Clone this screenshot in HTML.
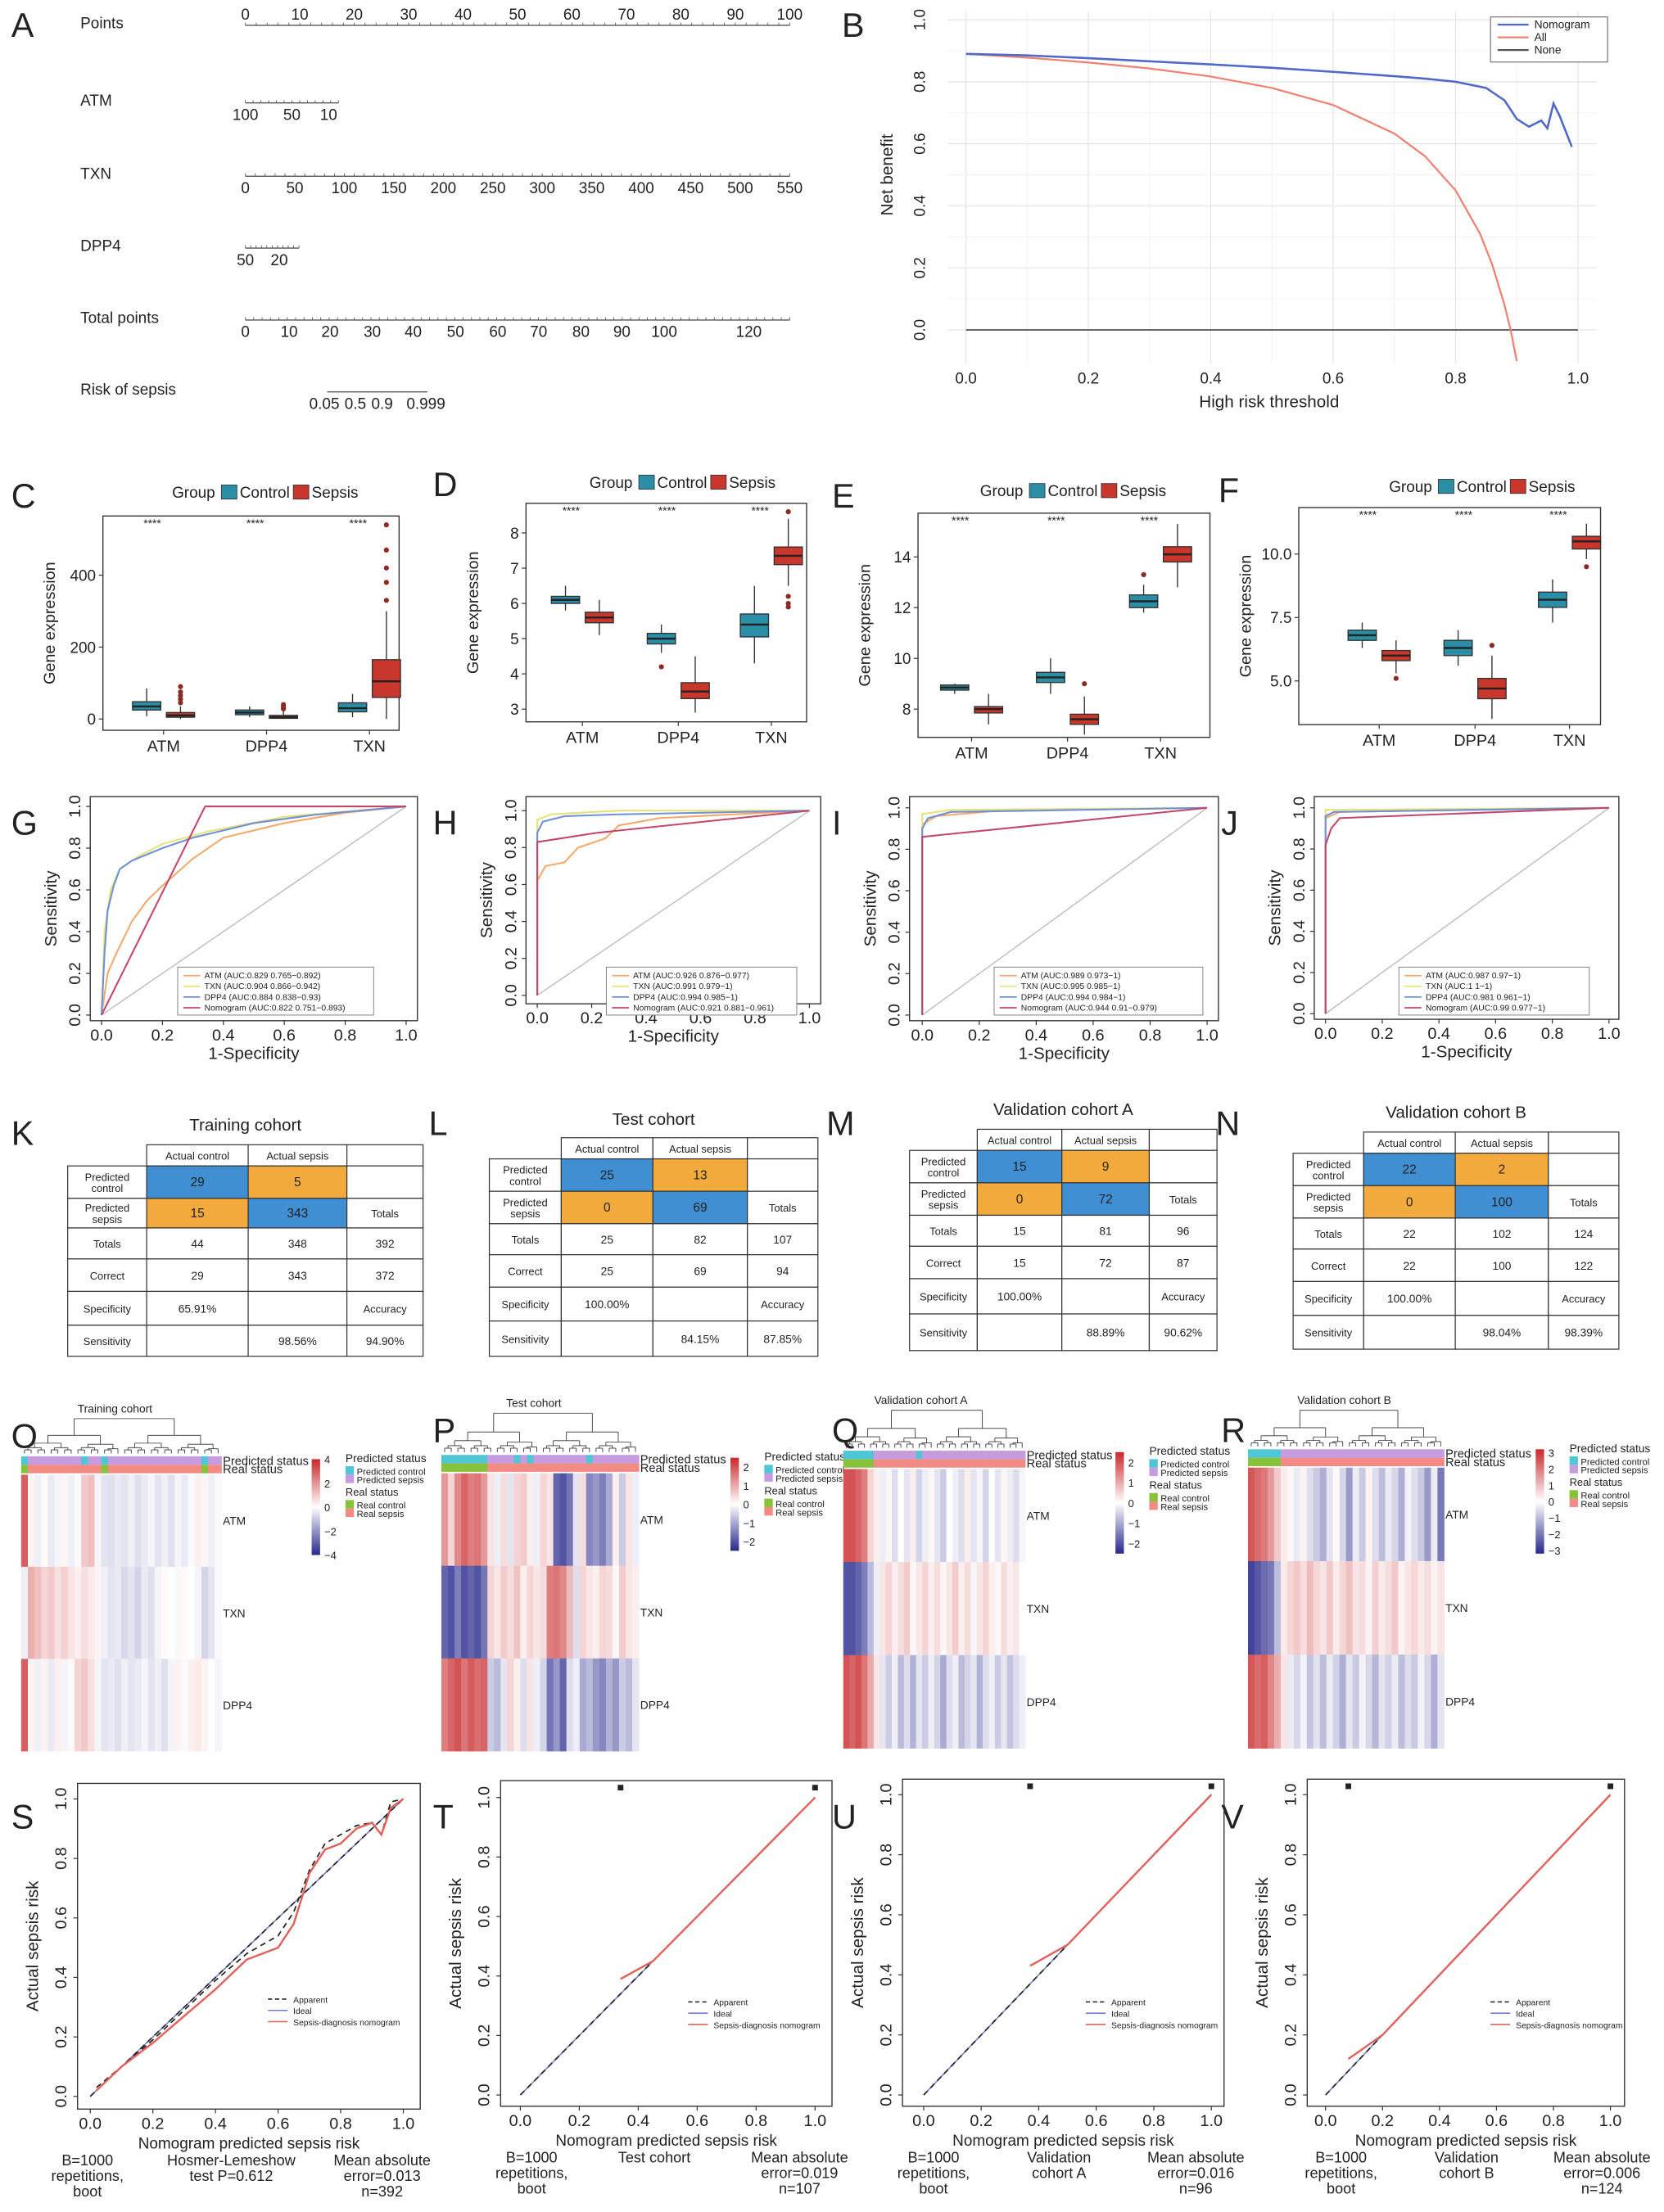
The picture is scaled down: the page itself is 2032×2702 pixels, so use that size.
<!DOCTYPE html>
<html><head><meta charset="utf-8">
<style>
html,body{margin:0;padding:0;background:#fff;}
svg{display:block;font-family:"Liberation Sans",Arial,sans-serif;}
</style></head>
<body>
<svg id="fig" xmlns="http://www.w3.org/2000/svg" width="2032" height="2702" viewBox="0 0 1180 1569" preserveAspectRatio="none"></svg>
<script>
// ---------- DATA ----------
const dcaThreshold=[0,0.1,0.2,0.3,0.4,0.5,0.6,0.7,0.75,0.8,0.85,0.88,0.9,0.92,0.94,0.95,0.96,0.97,0.99];
const dcaNomogram=[0.89,0.885,0.876,0.866,0.856,0.845,0.832,0.818,0.81,0.8,0.78,0.74,0.68,0.655,0.675,0.65,0.73,0.69,0.59];
const dcaAllThreshold=[0,0.1,0.2,0.3,0.4,0.5,0.6,0.7,0.75,0.8,0.84,0.86,0.88,0.89,0.9];
const dcaAll=[0.89,0.878,0.862,0.843,0.817,0.78,0.725,0.633,0.56,0.45,0.31,0.21,0.08,0,-0.1];
const boxGenes=['ATM','DPP4','TXN'];
const boxC_ctrl=[[8,25,35,48,85],[5,12,18,25,35],[5,20,30,45,70]];
const boxC_seps=[[0,5,10,18,35],[0,2,5,10,22],[0,60,105,165,300]];
// outliers: [categoryIndex, group (0=control,1=sepsis), values...]
const boxC_out=[[0,1,45,55,65,75,90],[1,1,28,34,40],[2,1,330,380,420,470,540]];
const boxD_ctrl=[[5.8,6.0,6.1,6.2,6.5],[4.6,4.85,5.0,5.15,5.4],[4.3,5.05,5.4,5.7,6.5]];
const boxD_seps=[[5.1,5.45,5.6,5.75,6.1],[2.9,3.3,3.5,3.75,4.5],[6.5,7.1,7.35,7.6,8.4]];
const boxD_out=[[1,0,4.2],[2,1,6.2,6.0,5.9,8.6]];
const boxE_ctrl=[[8.6,8.75,8.85,8.95,9.0],[8.6,9.05,9.25,9.45,10.0],[11.8,12.0,12.25,12.5,12.9]];
const boxE_seps=[[7.4,7.85,8.0,8.1,8.6],[7.0,7.4,7.6,7.8,8.5],[12.8,13.8,14.1,14.4,15.3]];
const boxE_out=[[1,1,9.0],[2,0,13.3]];
const boxF_ctrl=[[6.3,6.6,6.8,7.0,7.3],[5.6,6.0,6.3,6.6,7.0],[7.3,7.9,8.2,8.5,9.0]];
const boxF_seps=[[5.3,5.8,6.0,6.2,6.6],[3.5,4.3,4.7,5.1,6.0],[9.8,10.2,10.5,10.7,11.2]];
const boxF_out=[[0,1,5.1],[1,1,6.4],[2,1,9.5]];
const rocG_ATM_fpr=[0,0.02,0.05,0.1,0.15,0.2,0.3,0.4,0.6,0.8,1], rocG_ATM_tpr=[0,0.2,0.3,0.45,0.55,0.62,0.75,0.85,0.92,0.97,1];
const rocG_TXN_fpr=[0,0.01,0.03,0.06,0.12,0.2,0.35,0.6,1], rocG_TXN_tpr=[0,0.4,0.6,0.7,0.76,0.82,0.88,0.95,1];
const rocG_DPP4_fpr=[0,0.01,0.02,0.04,0.06,0.1,0.2,0.3,0.5,0.7,1], rocG_DPP4_tpr=[0,0.3,0.5,0.62,0.7,0.74,0.8,0.85,0.92,0.96,1];
const rocG_NOM_fpr=[0,0.34,1], rocG_NOM_tpr=[0,1,1];
const rocH_ATM_fpr=[0,0,0.03,0.1,0.15,0.25,0.3,0.45,1], rocH_ATM_tpr=[0,0.62,0.7,0.72,0.8,0.85,0.92,0.96,1];
const rocH_TXN_fpr=[0,0,0.05,0.3,1], rocH_TXN_tpr=[0,0.95,0.98,1,1];
const rocH_DPP4_fpr=[0,0,0.02,0.1,0.3,1], rocH_DPP4_tpr=[0,0.88,0.94,0.97,0.98,1];
const rocH_NOM_fpr=[0,0,0.22,1], rocH_NOM_tpr=[0,0.83,0.88,1];
const rocI_ATM_fpr=[0,0,0.05,0.3,1], rocI_ATM_tpr=[0,0.92,0.96,0.99,1];
const rocI_TXN_fpr=[0,0,0.1,1], rocI_TXN_tpr=[0,0.97,0.99,1];
const rocI_DPP4_fpr=[0,0,0.02,0.1,1], rocI_DPP4_tpr=[0,0.9,0.95,0.98,1];
const rocI_NOM_fpr=[0,0,1], rocI_NOM_tpr=[0,0.86,1];
const rocJ_ATM_fpr=[0,0,0.05,1], rocJ_ATM_tpr=[0,0.95,0.98,1];
const rocJ_TXN_fpr=[0,0,1], rocJ_TXN_tpr=[0,0.99,1];
const rocJ_DPP4_fpr=[0,0,0.03,1], rocJ_DPP4_tpr=[0,0.96,0.98,1];
const rocJ_NOM_fpr=[0,0,0.02,0.05,1], rocJ_NOM_tpr=[0,0.82,0.9,0.95,1];
const calS_pred=[0.02,0.1,0.2,0.3,0.4,0.5,0.6,0.65,0.7,0.75,0.8,0.85,0.9,0.93,0.96,1];
const calS_corr=[0.02,0.1,0.18,0.27,0.36,0.46,0.5,0.58,0.75,0.83,0.85,0.9,0.92,0.88,0.97,1];
const calS_app=[0.03,0.1,0.19,0.29,0.39,0.48,0.54,0.62,0.76,0.85,0.88,0.91,0.92,0.88,0.99,1];
const calT_pred=[0.34,0.45,0.6,0.8,1], calT_corr=[0.39,0.45,0.6,0.8,1];
const calU_pred=[0.37,0.5,0.7,1], calU_corr=[0.43,0.5,0.7,1];
const calV_pred=[0.08,0.2,0.5,1], calV_corr=[0.12,0.2,0.5,1];
const hmO_ATM=[3,0.2,-0.3,0.1,-0.4,-0.2,0.2,-0.3,-0.1,1,1.2,-0.2,-0.5,-0.6,-0.4,-0.5,-0.3,-0.6,-0.4,-0.2,-0.5,-0.3,-0.6,-0.2,-0.4,-0.1,0.3,0.2,-0.3,-0.1];
const hmO_TXN=[-0.3,1.5,1.2,0.8,1,0.6,0.9,0.5,0.3,0.6,0.4,0.2,-0.3,-0.5,-0.4,-0.7,-0.5,-0.8,-0.4,-0.6,-0.2,0.1,0,-0.1,0.1,0,-0.2,-0.8,-0.5,-0.1];
const hmO_DPP4=[3,0.2,-0.3,0.2,-0.4,0.3,-0.2,0.1,0.8,1,0.6,-0.2,-0.5,-0.4,-0.6,-0.3,-0.5,-0.4,-0.2,-0.5,-0.3,-0.6,-0.2,0.2,-0.1,0.3,0.4,0.2,0,-0.2];
const hmP_ATM=[1.2,0.5,1.4,1.8,1.5,1.6,1.2,0.3,-0.2,0.4,-0.3,0.5,0.6,0.2,-0.2,0.5,0.3,-1.8,-2,-1.6,-0.3,0.4,-1.4,-1.2,-1.5,-1,0.2,-0.6,0.3,-0.2];
const hmP_TXN=[-1.8,-2,-1.5,-2,-1.8,-2,-1.6,0.5,0.3,0.6,0.4,0.7,0.2,0.5,0.3,0.4,1.5,1.6,1.4,0.8,-0.4,0.5,0.3,0.2,0.5,0.4,0.1,0.6,0.3,0.2];
const hmP_DPP4=[1.5,1.8,2,1.6,1.9,1.7,1.8,-0.6,-0.8,-0.3,0.5,0.2,-0.4,0.3,-0.2,-0.5,-1.6,-1.2,-1.8,-0.4,-0.2,-1,-0.8,-1.2,-1.4,-0.9,-1.2,-0.6,-0.8,-0.3];
const hmQ_ATM=[2,2,1.8,1.5,0.5,0.2,-0.2,0.1,-0.4,0,-0.3,0.2,-0.5,-0.2,0.1,-0.3,-0.6,0,-0.2,-0.4,0.2,-0.3,-0.1,-0.5,0,-0.3,0.1,-0.2,-0.4,-0.1];
const hmQ_TXN=[-2,-2,-1.8,-1.5,-0.8,-0.2,0.3,0.5,0.2,0.4,0.6,0.1,0.3,0.5,0.2,0.4,0.1,0.3,0.6,0.2,0.4,-0.1,0.3,0.5,0.2,0.1,0.4,0.2,0.3,0];
const hmQ_DPP4=[2,1.8,2,1.6,1,0.3,-0.3,-0.6,-0.2,-0.8,-0.4,-0.9,-0.3,-0.6,-0.2,-0.5,-1,-0.4,-0.2,-0.8,-0.5,-0.3,-0.9,-0.4,-0.2,-0.6,-0.3,-0.7,-0.4,-0.2];
const hmR_ATM=[2.5,2.2,2,1.5,0.8,0.3,0.1,-0.3,0.2,-0.5,-0.8,-1.2,-0.4,0.1,-0.6,-1.5,-0.3,-0.8,0.2,-0.5,-1,-0.3,-0.6,-1.2,-0.2,-0.5,-0.8,-1.5,-0.3,-2];
const hmR_TXN=[-2.8,-2.5,-2.2,-2,-1,0.3,0.6,0.8,0.5,1,0.6,0.4,0.8,0.3,0.6,0.9,0.4,0.5,0.2,0.7,0.3,0.5,0.8,0.2,0.4,0.6,0.3,0.5,0.2,0.4];
const hmR_DPP4=[2.5,2.2,2.4,1.8,1.2,0.4,-0.3,-0.6,-0.2,-0.9,-0.4,-1,-0.3,-0.7,-1.2,-0.4,-0.8,-0.2,-0.6,-1.1,-0.4,-0.7,-0.3,-1,-0.5,-0.8,-0.2,-0.6,-1.2,-0.4];
const hmO_pred=[0,1,1,1,1,1,1,1,1,0,1,1,0,1,1,1,1,1,1,1,1,1,1,1,1,1,1,0,1,1];
const hmO_real=[0,1,1,1,1,1,1,1,1,1,1,1,0,1,1,1,1,1,1,1,1,1,1,1,1,1,1,0,1,1];
const hmP_pred=[0,0,0,0,0,0,0,1,1,1,1,0,1,0,1,1,1,1,1,1,1,1,0,1,1,1,1,1,1,1];
const hmP_real=[0,0,0,0,0,0,0,1,1,1,1,1,1,1,1,1,1,1,1,1,1,1,1,1,1,1,1,1,1,1];
const hmQ_pred=[0,0,0,0,0,1,1,1,1,1,1,1,0,1,1,1,1,1,1,1,1,1,1,1,1,1,1,1,1,1];
const hmQ_real=[0,0,0,0,0,1,1,1,1,1,1,1,1,1,1,1,1,1,1,1,1,1,1,1,1,1,1,1,1,1];
const hmR_pred=[0,0,0,0,0,1,1,1,1,1,1,1,1,1,1,1,1,1,1,1,1,1,1,1,1,1,1,1,1,1];
const hmR_real=[0,0,0,0,0,1,1,1,1,1,1,1,1,1,1,1,1,1,1,1,1,1,1,1,1,1,1,1,1,1];

// ---------- HELPERS ----------
const NS='http://www.w3.org/2000/svg';
const svg=document.getElementById('fig');
function mk(tag,attrs,name,parent){
  const el=document.createElementNS(NS,tag);
  for(const k in attrs)el.setAttribute(k,attrs[k]);
  
  
  (parent||svg).appendChild(el);return el;
}
function txt(x,y,s,size,name,extra){
  const a={x:x,y:y,'font-size':size,fill:'#222'};
  if(extra)for(const k in extra)a[k]=extra[k];
  const t=mk('text',a,name);t.textContent=s;return t;
}
function line(x1,y1,x2,y2,stroke,w,name,extra){
  const a={x1,y1,x2,y2,stroke,'stroke-width':w};
  if(extra)for(const k in extra)a[k]=extra[k];
  return mk('line',a,name);
}
function lin(d0,d1,r0,r1){return v=>r0+(v-d0)*(r1-r0)/(d1-d0);}
function poly(xs,ys,fx,fy,stroke,w,name,extra){
  const pts=xs.map((x,i)=>fx(x).toFixed(2)+','+fy(ys[i]).toFixed(2)).join(' ');
  const a={points:pts,fill:'none',stroke,'stroke-width':w};
  if(extra)for(const k in extra)a[k]=extra[k];
  return mk('polyline',a,name);
}

const letters=[['A',8,26],['B',597,26],['C',8,360],['D',307,352],['E',590,360],['F',864,356],['G',8,592],['H',307,592],['I',590,592],['J',866,592],['K',8,812],['L',304,805],['M',586,805],['N',862,805],['O',8,1027],['P',307,1023],['Q',590,1023],['R',866,1023],['S',8,1297],['T',307,1297],['U',590,1297],['V',866,1297]];
letters.forEach(l=>txt(l[1],l[2],l[0],24,'panel-label-'+l[0].toLowerCase()));

// ---------- A ----------
(function(){
  const rows=[['Points',20],['ATM',75],['TXN',127],['DPP4',178],['Total points',229],['Risk of sepsis',280]];
  rows.forEach(r=>txt(57,r[1],r[0],11,'nomogram-label-'+r[0].toLowerCase().replace(/ /g,'-')));
  function ax(x0,x1,y,labels,pos,up,minor,name){
    line(x0,y,x1,y,'#555',0.8,name+'-line');
    for(let i=0;i<=minor;i++){const x=x0+(x1-x0)*i/minor;line(x,y,x,y-2,'#555',0.5,name+'-minor-tick');}
    labels.forEach((l,i)=>{txt(pos[i],up?y-4:y+12,l,11,name+'-tick-label',{'text-anchor':'middle'});});
  }
  const pts=[0,10,20,30,40,50,60,70,80,90,100];
  ax(174,560,18,pts.map(String),pts.map(lin(0,100,174,560)),true,50,'points-axis');
  ax(174,240,73,['100','50','10'],[174,207,233],false,12,'atm-axis');
  const tx=[0,50,100,150,200,250,300,350,400,450,500,550];
  ax(174,560,125,tx.map(String),tx.map(lin(0,550,174,560)),false,55,'txn-axis');
  ax(174,212,176,['50','20'],[174,198],false,10,'dpp4-axis');
  const tp=[0,10,20,30,40,50,60,70,80,90,100,120];
  ax(174,560,227,tp.map(String),[174,205,234,264,293,323,353,382,412,441,471,531],false,65,'total-points-axis');
  line(232,278,303,278,'#555',0.8,'risk-axis-line');
  [['0.05',230],['0.5',252],['0.9',271],['0.999',302]].forEach(l=>txt(l[1],290,l[0],11,'risk-tick-label',{'text-anchor':'middle'}));
})();

// ---------- B ----------
(function(){
  const fx=lin(0,1,685,1119), fy=lin(0,1,234,14);
  [0.1,0.3,0.5,0.7,0.9].forEach(v=>{line(fx(v),8,fx(v),258,'#f0f0f0',0.5,'dca-minor-grid-x');line(672,fy(v),1132,fy(v),'#f0f0f0',0.5,'dca-minor-grid-y');});
  [0,0.2,0.4,0.6,0.8,1].forEach(v=>{
    line(fx(v),8,fx(v),258,'#e4e4e4',0.7,'dca-grid-x');
    line(672,fy(v),1132,fy(v),'#e4e4e4',0.7,'dca-grid-y');
    txt(fx(v),272,v.toFixed(1),11,'dca-x-tick-label',{'text-anchor':'middle'});
    txt(656,fy(v),v.toFixed(1),11,'dca-y-tick-label',{'text-anchor':'middle',transform:'rotate(-90 656 '+fy(v)+')'});
  });
  txt(900,289,'High risk threshold',12,'dca-x-axis-title',{'text-anchor':'middle'});
  txt(633,124,'Net benefit',12,'dca-y-axis-title',{'text-anchor':'middle',transform:'rotate(-90 633 124)'});
  const cp=mk('clipPath',{id:'dcaclip'},'dca-clip');
  mk('rect',{x:672,y:8,width:460,height:250},'dca-clip-rect',cp);
  line(fx(0),fy(0),fx(1),fy(0),'#555',1,'dca-none-line');
  poly(dcaAllThreshold,dcaAll,fx,fy,'#f08070',1.3,'dca-all-line',{'clip-path':'url(#dcaclip)'});
  poly(dcaThreshold,dcaNomogram,fx,fy,'#5068c8',1.5,'dca-nomogram-line');
  mk('rect',{x:1057,y:12,width:83,height:32,fill:'#fff',stroke:'#777','stroke-width':0.7},'dca-legend-box');
  [['Nomogram','#5068c8',20],['All','#f08070',29],['None','#555',38]].forEach(e=>{
    line(1062,e[2]-2.5,1084,e[2]-2.5,e[1],1.3,'dca-legend-swatch');
    txt(1088,e[2],e[0],8,'dca-legend-entry');
  });
})();

// ---------- C-F ----------
function boxPanel(P){
  mk('rect',{x:P.bx0,y:P.by0,width:P.bx1-P.bx0,height:P.by1-P.by0,fill:'none',stroke:'#333','stroke-width':0.8},P.id+'-plot-frame');
  const fy=lin(P.d0,P.d1,P.r0,P.r1);
  P.ticks.forEach(t=>{line(P.bx0-3,fy(t),P.bx0,fy(t),'#333',0.7,P.id+'-y-tick');txt(P.bx0-5,fy(t)+4,P.tickFmt(t),11,P.id+'-y-tick-label',{'text-anchor':'end'});});
  txt(P.bx0-34,(P.by0+P.by1)/2,'Gene expression',11.5,P.id+'-y-axis-title',{'text-anchor':'middle',transform:'rotate(-90 '+(P.bx0-34)+' '+((P.by0+P.by1)/2)+')'});
  boxGenes.forEach((g,i)=>{
    const cx=P.cats[i];
    line(cx,P.by1,cx,P.by1+3,'#333',0.7,P.id+'-x-tick');
    txt(cx,P.by1+15,g,11.5,P.id+'-x-tick-label-'+g.toLowerCase(),{'text-anchor':'middle'});
    txt(cx-8,P.by0+8,'****',8,P.id+'-significance-'+g.toLowerCase(),{'text-anchor':'middle'});
    [[P.ctrl[i],cx-12,'#2a8fa6','control'],[P.seps[i],cx+12,'#c9372c','sepsis']].forEach(b=>{
      const d=b[0],x=b[1];
      line(x,fy(d[0]),x,fy(d[1]),'#333',0.8,P.id+'-whisker-'+b[3]);
      line(x,fy(d[3]),x,fy(d[4]),'#333',0.8,P.id+'-whisker-'+b[3]);
      mk('rect',{x:x-10,y:fy(d[3]),width:20,height:Math.max(1,fy(d[1])-fy(d[3])),fill:b[2],stroke:'#333','stroke-width':0.8},P.id+'-box-'+g.toLowerCase()+'-'+b[3]);
      line(x-10,fy(d[2]),x+10,fy(d[2]),'#222',1.4,P.id+'-median-'+b[3]);
    });
  });
  P.out.forEach(o=>{const i=o[0],off=o[1]?12:-12;for(let k=2;k<o.length;k++){mk('circle',{cx:P.cats[i]+off,cy:fy(o[k]),r:1.8,fill:'#8a2a22'},P.id+'-outlier');}});
  const ly=P.legY;
  txt(P.legX,ly,'Group',11,P.id+'-legend-title');
  mk('rect',{x:P.legX+35,y:ly-9,width:11,height:10,fill:'#2a8fa6',stroke:'#333','stroke-width':0.5},P.id+'-legend-control-swatch');
  txt(P.legX+48,ly,'Control',11,P.id+'-legend-control');
  mk('rect',{x:P.legX+86,y:ly-9,width:11,height:10,fill:'#c9372c',stroke:'#333','stroke-width':0.5},P.id+'-legend-sepsis-swatch');
  txt(P.legX+99,ly,'Sepsis',11,P.id+'-legend-sepsis');
}
boxPanel({id:'boxplot-c',bx0:73,bx1:283,by0:366,by1:518,d0:0,d1:400,r0:510,r1:408,ticks:[0,200,400],tickFmt:String,cats:[116,189,262],ctrl:boxC_ctrl,seps:boxC_seps,out:boxC_out,legX:122,legY:353});
boxPanel({id:'boxplot-d',bx0:373,bx1:572,by0:357,by1:512,d0:3,d1:8,r0:503,r1:378,ticks:[3,4,5,6,7,8],tickFmt:String,cats:[413,481,547],ctrl:boxD_ctrl,seps:boxD_seps,out:boxD_out,legX:418,legY:346});
boxPanel({id:'boxplot-e',bx0:651,bx1:858,by0:364,by1:523,d0:8,d1:14,r0:503,r1:395,ticks:[8,10,12,14],tickFmt:String,cats:[689,757,823],ctrl:boxE_ctrl,seps:boxE_seps,out:boxE_out,legX:695,legY:352});
boxPanel({id:'boxplot-f',bx0:921,bx1:1135,by0:360,by1:514,d0:5,d1:10,r0:483,r1:393,ticks:[5,7.5,10],tickFmt:v=>v.toFixed(1),cats:[978,1046,1113],ctrl:boxF_ctrl,seps:boxF_seps,out:boxF_out,legX:985,legY:349});

// ---------- G-J ----------
const rocColors={ATM:'#f5a86a',TXN:'#e6e27a',DPP4:'#6f8fd6',NOM:'#c2476a'};
function rocPanel(P){
  mk('rect',{x:P.bx0,y:P.by0,width:P.bx1-P.bx0,height:P.by1-P.by0,fill:'none',stroke:'#333','stroke-width':0.8},P.id+'-plot-frame');
  const fx=lin(0,1,P.x0,P.x1), fy=lin(0,1,P.y0,P.y1);
  [0,0.2,0.4,0.6,0.8,1].forEach(v=>{
    line(fx(v),P.by1,fx(v),P.by1+3,'#333',0.7,P.id+'-x-tick');
    txt(fx(v),P.by1+14,v.toFixed(1),11.5,P.id+'-x-tick-label',{'text-anchor':'middle'});
    line(P.bx0-3,fy(v),P.bx0,fy(v),'#333',0.7,P.id+'-y-tick');
    const lx=P.bx0-7;txt(lx,fy(v),v.toFixed(1),11.5,P.id+'-y-tick-label',{'text-anchor':'middle',transform:'rotate(-90 '+lx+' '+fy(v)+')'});
  });
  txt((P.bx0+P.bx1)/2,P.by1+27,'1-Specificity',12,P.id+'-x-axis-title',{'text-anchor':'middle'});
  const yl=P.bx0-24,ym=(P.by0+P.by1)/2;
  txt(yl,ym,'Sensitivity',12,P.id+'-y-axis-title',{'text-anchor':'middle',transform:'rotate(-90 '+yl+' '+ym+')'});
  line(fx(0),fy(0),fx(1),fy(1),'#bbb',0.8,P.id+'-diagonal');
  P.curves.forEach(c=>poly(c[1],c[2],fx,fy,rocColors[c[0]],1.2,P.id+'-curve-'+c[0].toLowerCase()));
  const L=P.leg;
  mk('rect',{x:L[0],y:L[1],width:L[2],height:34,fill:'#fff',stroke:'#888','stroke-width':0.6},P.id+'-legend-box');
  P.legText.forEach((t,i)=>{const yy=L[1]+8+i*7.6;line(L[0]+4,yy-2,L[0]+16,yy-2,rocColors[['ATM','TXN','DPP4','NOM'][i]],1,P.id+'-legend-swatch');txt(L[0]+19,yy,t,6,P.id+'-legend-entry');});
}
rocPanel({id:'roc-g',bx0:64,bx1:296,by0:565,by1:724,x0:72,x1:288,y0:720,y1:572,leg:[126,686,139],
 curves:[['ATM',rocG_ATM_fpr,rocG_ATM_tpr],['TXN',rocG_TXN_fpr,rocG_TXN_tpr],['DPP4',rocG_DPP4_fpr,rocG_DPP4_tpr],['NOM',rocG_NOM_fpr,rocG_NOM_tpr]],
 legText:['ATM (AUC:0.829 0.765−0.892)','TXN (AUC:0.904 0.866−0.942)','DPP4 (AUC:0.884 0.838−0.93)','Nomogram (AUC:0.822 0.751−0.893)']});
rocPanel({id:'roc-h',bx0:373,bx1:582,by0:565,by1:712,x0:381,x1:574,y0:706,y1:575,leg:[430,686,135],
 curves:[['ATM',rocH_ATM_fpr,rocH_ATM_tpr],['TXN',rocH_TXN_fpr,rocH_TXN_tpr],['DPP4',rocH_DPP4_fpr,rocH_DPP4_tpr],['NOM',rocH_NOM_fpr,rocH_NOM_tpr]],
 legText:['ATM (AUC:0.926 0.876−0.977)','TXN (AUC:0.991 0.979−1)','DPP4 (AUC:0.994 0.985−1)','Nomogram (AUC:0.921 0.881−0.961)']});
rocPanel({id:'roc-i',bx0:645,bx1:864,by0:565,by1:724,x0:654,x1:856,y0:720,y1:573,leg:[705,686,148],
 curves:[['ATM',rocI_ATM_fpr,rocI_ATM_tpr],['TXN',rocI_TXN_fpr,rocI_TXN_tpr],['DPP4',rocI_DPP4_fpr,rocI_DPP4_tpr],['NOM',rocI_NOM_fpr,rocI_NOM_tpr]],
 legText:['ATM (AUC:0.989 0.973−1)','TXN (AUC:0.995 0.985−1)','DPP4 (AUC:0.994 0.984−1)','Nomogram (AUC:0.944 0.91−0.979)']});
rocPanel({id:'roc-j',bx0:932,bx1:1148,by0:565,by1:723,x0:940,x1:1141,y0:719,y1:573,leg:[992,686,135],
 curves:[['ATM',rocJ_ATM_fpr,rocJ_ATM_tpr],['TXN',rocJ_TXN_fpr,rocJ_TXN_tpr],['DPP4',rocJ_DPP4_fpr,rocJ_DPP4_tpr],['NOM',rocJ_NOM_fpr,rocJ_NOM_tpr]],
 legText:['ATM (AUC:0.987 0.97−1)','TXN (AUC:1 1−1)','DPP4 (AUC:0.981 0.961−1)','Nomogram (AUC:0.99 0.977−1)']});

// ---------- K-N ----------
function table(P){
  txt((P.cols[0]+P.cols[4])/2,P.ty,P.title,12,P.id+'-title',{'text-anchor':'middle'});
  const d=P.data;
  for(let r=0;r<7;r++)for(let c=0;c<4;c++){
    if(r===0&&c===0)continue;
    let s=d[r][c],fill='#fff';
    if(s.endsWith('|b')){fill='#3f8fd2';s=s.slice(0,-2);}else if(s.endsWith('|o')){fill='#f2aa3c';s=s.slice(0,-2);}
    const x=P.cols[c],y=P.rows[r],w=P.cols[c+1]-x,h=P.rows[r+1]-y;
    mk('rect',{x,y,width:w,height:h,fill,stroke:'#333','stroke-width':0.7},P.id+'-cell');
    const fs=(r===0||c===0||s==='Totals'||s==='Accuracy')?7.5:(fill!=='#fff'?9:8);
    const parts=s.split('\n');
    parts.forEach((p,k)=>txt(x+w/2,y+h/2+3+(k-(parts.length-1)/2)*8,p,fs,P.id+'-cell-text',{'text-anchor':'middle'}));
  }
}
function tdata(a,b,c,e,tot,cor,spec,sens,acc){return [['','Actual control','Actual sepsis',''],['Predicted\ncontrol',a+'|b',b+'|o',''],['Predicted\nsepsis',c+'|o',e+'|b','Totals'],['Totals'].concat(tot),['Correct'].concat(cor),['Specificity',spec,'','Accuracy'],['Sensitivity','',sens,acc]];}
table({id:'table-training',title:'Training cohort',ty:802,cols:[48,104,176,246,300],rows:[812,827,850,871,893,916,940,962],data:tdata('29','5','15','343',['44','348','392'],['29','343','372'],'65.91%','98.56%','94.90%')});
table({id:'table-test',title:'Test cohort',ty:798,cols:[347,398,463,530,580],rows:[807,822,845,868,890,913,937,962],data:tdata('25','13','0','69',['25','82','107'],['25','69','94'],'100.00%','84.15%','87.85%')});
table({id:'table-validation-a',title:'Validation cohort A',ty:791,cols:[645,693,753,815,863],rows:[801,816,839,862,884,907,932,958],data:tdata('15','9','0','72',['15','81','96'],['15','72','87'],'100.00%','88.89%','90.62%')});
table({id:'table-validation-b',title:'Validation cohort B',ty:793,cols:[917,967,1032,1098,1148],rows:[803,818,841,864,886,909,933,957],data:tdata('22','2','0','100',['22','102','124'],['22','100','122'],'100.00%','98.04%','98.39%')});

// ---------- O-R ----------
function hcol(v,m){const t=Math.max(-1,Math.min(1,v/m));
  if(t>=0){return 'rgb('+Math.round(255-(255-200)*t)+','+Math.round(255-(255-40)*t)+','+Math.round(255-(255-42)*t)+')';}
  const u=-t;return 'rgb('+Math.round(255-(255-40)*u)+','+Math.round(255-(255-40)*u)+','+Math.round(255-(255-140)*u)+')';}
function heat(P){
  const n=P.rowsData[0].length,cw=(P.x1-P.x0)/n;
  txt(P.x0+P.titleDx,P.dy0-4,P.title,8,P.id+'-title');
  function dend(a,b){ if(b-a<1)return {x:P.x0+(a+0.5)*cw,h:P.dy1};
    const m=Math.floor((a+b)/2);const L=dend(a,m),R=dend(m+1,b);
    const h=P.dy1-(P.dy1-P.dy0)*(b-a+1)/n*0.95-1;
    line(L.x,L.h,L.x,h,'#333',0.5,P.id+'-dendrogram-branch');line(R.x,R.h,R.x,h,'#333',0.5,P.id+'-dendrogram-branch');line(L.x,h,R.x,h,'#333',0.5,P.id+'-dendrogram-branch');
    return {x:(L.x+R.x)/2,h};}
  dend(0,n-1);
  for(let i=0;i<n;i++){
    mk('rect',{x:P.x0+i*cw,y:P.ay,width:cw+0.3,height:6,fill:P.pred[i]?'#c79be0':'#4fc6d6'},P.id+'-predicted-status-cell');
    mk('rect',{x:P.x0+i*cw,y:P.ay+6,width:cw+0.3,height:6,fill:P.real[i]?'#f38b85':'#86c23a'},P.id+'-real-status-cell');
  }
  txt(P.x1+1,P.ay+6,'Predicted status',8.5,P.id+'-predicted-status-label');
  txt(P.x1+1,P.ay+12,'Real status',8.5,P.id+'-real-status-label');
  const rh=(P.hy1-P.hy0)/3,genes=['ATM','TXN','DPP4'];
  P.rowsData.forEach((row,r)=>{row.forEach((v,i)=>{
    mk('rect',{x:P.x0+i*cw,y:P.hy0+r*rh,width:cw+0.3,height:rh+0.3,fill:hcol(v,P.max)},P.id+'-cell-'+genes[r].toLowerCase());});
    txt(P.x1+1,P.hy0+r*rh+rh/2+3,genes[r],8,P.id+'-row-label-'+genes[r].toLowerCase());});
  const gid=P.id+'-grad';const g=mk('linearGradient',{id:gid,x1:0,y1:0,x2:0,y2:1},P.id+'-gradient');
  [['0%','rgb(200,40,42)'],['50%','#fff'],['100%','rgb(40,40,140)']].forEach(s=>{const st=document.createElementNS(NS,'stop');st.setAttribute('offset',s[0]);st.setAttribute('stop-color',s[1]);g.appendChild(st);});
  mk('rect',{x:P.cb[0],y:P.cb[1],width:6,height:P.cb[2],fill:'url(#'+gid+')'},P.id+'-colorbar');
  P.cbTicks.forEach(t=>{const y=P.cb[1]+P.cb[2]/2-t/P.max*P.cb[2]/2;txt(P.cb[0]+9,y+3,t<0?'\u2212'+(-t):String(t),7.5,P.id+'-colorbar-label');});
  const lx=P.cb[0]+24,ly=P.cb[1]+2;
  txt(lx,ly,'Predicted status',8,P.id+'-legend-predicted-title');
  mk('rect',{x:lx,y:ly+3,width:6,height:6,fill:'#4fc6d6'},P.id+'-legend-swatch');txt(lx+8,ly+9,'Predicted control',6.5,P.id+'-legend-predicted-control');
  mk('rect',{x:lx,y:ly+9,width:6,height:6,fill:'#c79be0'},P.id+'-legend-swatch');txt(lx+8,ly+15,'Predicted sepsis',6.5,P.id+'-legend-predicted-sepsis');
  txt(lx,ly+24,'Real status',7.5,P.id+'-legend-real-title');
  mk('rect',{x:lx,y:ly+27,width:6,height:6,fill:'#86c23a'},P.id+'-legend-swatch');txt(lx+8,ly+33,'Real control',6.5,P.id+'-legend-real-control');
  mk('rect',{x:lx,y:ly+33,width:6,height:6,fill:'#f38b85'},P.id+'-legend-swatch');txt(lx+8,ly+39,'Real sepsis',6.5,P.id+'-legend-real-sepsis');
}
heat({id:'heatmap-o',title:'Training cohort',titleDx:40,x0:15,x1:157,dy0:1006,dy1:1031,ay:1033,hy0:1046,hy1:1242,rowsData:[hmO_ATM,hmO_TXN,hmO_DPP4],pred:hmO_pred,real:hmO_real,max:4,cb:[221,1035,68],cbTicks:[4,2,0,-2,-4]});
heat({id:'heatmap-p',title:'Test cohort',titleDx:46,x0:313,x1:453,dy0:1002,dy1:1030,ay:1032,hy0:1045,hy1:1242,rowsData:[hmP_ATM,hmP_TXN,hmP_DPP4],pred:hmP_pred,real:hmP_real,max:2.5,cb:[518,1034,66],cbTicks:[2,1,0,-1,-2]});
heat({id:'heatmap-q',title:'Validation cohort A',titleDx:22,x0:598,x1:727,dy0:1000,dy1:1027,ay:1029,hy0:1042,hy1:1240,rowsData:[hmQ_ATM,hmQ_TXN,hmQ_DPP4],pred:hmQ_pred,real:hmQ_real,max:2.5,cb:[791,1030,72],cbTicks:[2,1,0,-1,-2]});
heat({id:'heatmap-r',title:'Validation cohort B',titleDx:35,x0:885,x1:1024,dy0:1000,dy1:1026,ay:1028,hy0:1041,hy1:1240,rowsData:[hmR_ATM,hmR_TXN,hmR_DPP4],pred:hmR_pred,real:hmR_real,max:3.2,cb:[1089,1028,74],cbTicks:[3,2,1,0,-1,-2,-3]});

// ---------- S-V ----------
function calPanel(P){
  mk('rect',{x:P.bx0,y:P.by0,width:P.bx1-P.bx0,height:P.by1-P.by0,fill:'none',stroke:'#333','stroke-width':0.8},P.id+'-plot-frame');
  const fx=lin(0,1,P.x0,P.x1), fy=lin(0,1,P.y0,P.y1);
  [0,0.2,0.4,0.6,0.8,1].forEach(v=>{
    line(fx(v),P.by1,fx(v),P.by1+3,'#333',0.7,P.id+'-x-tick');
    txt(fx(v),P.by1+14,v.toFixed(1),11.5,P.id+'-x-tick-label',{'text-anchor':'middle'});
    line(P.bx0-3,fy(v),P.bx0,fy(v),'#333',0.7,P.id+'-y-tick');
    const lx=P.bx0-8;txt(lx,fy(v),v.toFixed(1),11.5,P.id+'-y-tick-label',{'text-anchor':'middle',transform:'rotate(-90 '+lx+' '+fy(v)+')'});
  });
  const cx=(P.bx0+P.bx1)/2;
  txt(cx,P.by1+28,'Nomogram predicted sepsis risk',11,P.id+'-x-axis-title',{'text-anchor':'middle'});
  const yl=P.bx0-28,ym=(P.by0+P.by1)/2;
  txt(yl,ym,'Actual sepsis risk',12,P.id+'-y-axis-title',{'text-anchor':'middle',transform:'rotate(-90 '+yl+' '+ym+')'});
  line(fx(0),fy(0),fx(1),fy(1),'#6f7fd0',0.9,P.id+'-ideal-line');
  line(fx(0),fy(0),fx(1),fy(1),'#222',1,P.id+'-apparent-line',{'stroke-dasharray':'4,3'});
  if(P.app)poly(P.pred,P.app,fx,fy,'#222',1,P.id+'-apparent-curve',{'stroke-dasharray':'4,3'});
  poly(P.pred,P.corr,fx,fy,'#e0605a',1.4,P.id+'-bias-corrected-curve');
  if(P.rug)P.rug.forEach(v=>mk('rect',{x:fx(v)-2,y:P.by0+3,width:4,height:4,fill:'#222'},P.id+'-rug-mark'));
  const L=P.leg;
  [['Apparent','#222','3,2'],['Ideal','#6f7fd0',''],['Sepsis-diagnosis nomogram','#e0605a','']].forEach((e,i)=>{
    line(L[0],L[1]+i*8,L[0]+14,L[1]+i*8,e[1],0.9,P.id+'-legend-swatch',e[2]?{'stroke-dasharray':e[2]}:{});
    txt(L[0]+18,L[1]+i*8+2.5,e[0],6,P.id+'-legend-entry');
  });
  const cols=[[P.tx[0],['B=1000','repetitions,','boot']],[P.tx[1],P.mid],[P.tx[2],['Mean absolute',P.err,P.n]]];
  cols.forEach(c=>c[1].forEach((s,k)=>txt(c[0],P.by1+40+k*11,s,10.5,P.id+'-footnote',{'text-anchor':'middle'})));
}
calPanel({id:'calibration-s',bx0:55,bx1:298,by0:1265,by1:1496,x0:64,x1:286,y0:1487,y1:1276,pred:calS_pred,corr:calS_corr,app:calS_app,leg:[190,1418],tx:[62,164,271],mid:['Hosmer-Lemeshow','test P=0.612'],err:'error=0.013',n:'n=392'});
calPanel({id:'calibration-t',bx0:355,bx1:590,by0:1263,by1:1494,x0:369,x1:578,y0:1486,y1:1275,pred:calT_pred,corr:calT_corr,rug:[0.34,1],leg:[488,1420],tx:[377,464,567],mid:['Test cohort'],err:'error=0.019',n:'n=107'});
calPanel({id:'calibration-u',bx0:640,bx1:868,by0:1262,by1:1494,x0:655,x1:859,y0:1486,y1:1273,pred:calU_pred,corr:calU_corr,rug:[0.37,1],leg:[770,1420],tx:[662,751,848],mid:['Validation','cohort A'],err:'error=0.016',n:'n=96'});
calPanel({id:'calibration-v',bx0:927,bx1:1152,by0:1262,by1:1494,x0:940,x1:1142,y0:1486,y1:1273,pred:calV_pred,corr:calV_corr,rug:[0.08,1],leg:[1057,1420],tx:[951,1040,1136],mid:['Validation','cohort B'],err:'error=0.006',n:'n=124'});
</script>
</body></html>
